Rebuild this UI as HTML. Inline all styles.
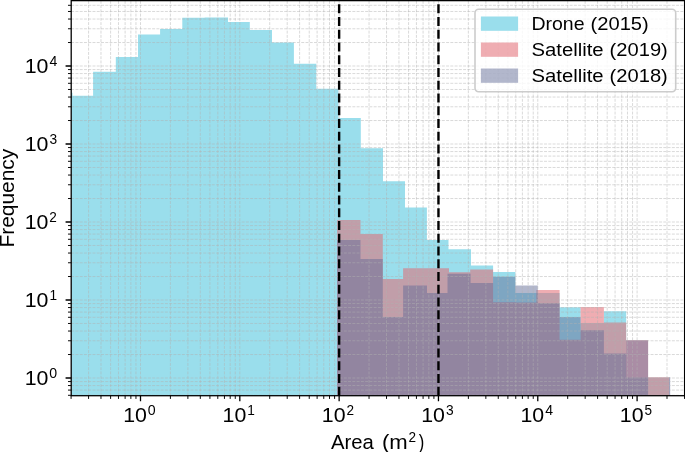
<!DOCTYPE html><html><head><meta charset="utf-8"><title>Area histogram</title><style>html,body{margin:0;padding:0;background:#fff;width:685px;height:452px;overflow:hidden}svg{display:block;will-change:transform}text{font-family:"Liberation Sans",sans-serif;fill:#000}</style></head><body><svg width="685" height="452" viewBox="0 0 685 452"><defs><clipPath id="ax"><rect x="71.2" y="0.64" width="613.4" height="395.06"/></clipPath></defs><rect width="685" height="452" fill="#fff"/><g clip-path="url(#ax)"><path d="M60 92.7H72.5V397.7H60ZM72.5 95.8H93.1V397.7H72.5ZM93.1 71.8H115.8V397.7H93.1ZM115.8 57.1H138V397.7H115.8ZM138 34.4H160.1V397.7H138ZM160.1 29.05H182.3V397.7H160.1ZM182.3 17.7H204.6V397.7H182.3ZM204.6 17.4H228V397.7H204.6ZM228 22H249.8V397.7H228ZM249.8 30.1H272V397.7H249.8ZM272 42.6H293.9V397.7H272ZM293.9 63.8H316.3V397.7H293.9ZM316.3 88.8H338.4V397.7H316.3ZM338.4 118H360.8V397.7H338.4ZM360.8 148.2H383V397.7H360.8ZM383 181.2H405V397.7H383ZM405 207.5H426.9V397.7H405ZM426.9 240H448.5V397.7H426.9ZM448.5 249.2H471V397.7H448.5ZM471 265.4H493.1V397.7H471ZM493.1 272H515.4V397.7H493.1ZM515.4 293.1H537.5V397.7H515.4ZM537.5 293.1H559.6V397.7H537.5ZM559.6 307.2H580.6V397.7H559.6ZM580.6 322.9H603.9V397.7H580.6ZM603.9 311.2H626.2V397.7H603.9ZM626.2 377.5H648.1V397.7H626.2ZM648.1 377.5H669.4V397.7H648.1Z" fill="#9adeec" fill-opacity="1"/><path d="M337.1 220H360.5V397.7H337.1ZM360.5 234.1H382.8V397.7H360.5ZM382.8 278.9H403.1V397.7H382.8ZM403.1 268.2H426.9V397.7H403.1ZM426.9 268.2H449V397.7H426.9ZM449 272.3H470.2V397.7H449ZM470.2 269.4H493.1V397.7H470.2ZM493.1 302.3H515.4V397.7H493.1ZM515.4 302.5H536.4V397.7H515.4ZM536.4 290.1H559.6V397.7H536.4ZM559.6 339.7H580.6V397.7H559.6ZM580.6 307H603.9V397.7H580.6ZM603.9 322.6H626.2V397.7H603.9ZM626.2 340.3H648.1V397.7H626.2ZM648.1 377.3H669.4V397.7H648.1Z" fill="#e26973" fill-opacity="0.549"/><path d="M337.1 239.9H360.5V397.7H337.1ZM360.5 258.9H382.8V397.7H360.5ZM382.8 316.9H403.1V397.7H382.8ZM403.1 285.5H427V397.7H403.1ZM427 292.9H447.5V397.7H427ZM447.5 273.7H470.6V397.7H447.5ZM470.6 282.9H493.1V397.7H470.6ZM493.1 276.8H515.4V397.7H493.1ZM515.4 285.4H537.8V397.7H515.4ZM537.8 303.2H559.6V397.7H537.8ZM559.6 317H580.6V397.7H559.6ZM580.6 330.2H603.9V397.7H580.6ZM603.9 353.6H626.2V397.7H603.9ZM626.2 340.3H648.1V397.7H626.2ZM669 377.3H670.2V397.7H669Z" fill="#616d97" fill-opacity="0.491"/><path d="M140.5 395.7V0.64M239.82 395.7V0.64M339.14 395.7V0.64M438.46 395.7V0.64M537.78 395.7V0.64M637.1 395.7V0.64M71.08 395.7V0.64M88.57 395.7V0.64M100.98 395.7V0.64M110.6 395.7V0.64M118.47 395.7V0.64M125.12 395.7V0.64M130.87 395.7V0.64M135.96 395.7V0.64M170.4 395.7V0.64M187.89 395.7V0.64M200.3 395.7V0.64M209.92 395.7V0.64M217.79 395.7V0.64M224.44 395.7V0.64M230.19 395.7V0.64M235.28 395.7V0.64M269.72 395.7V0.64M287.21 395.7V0.64M299.62 395.7V0.64M309.24 395.7V0.64M317.11 395.7V0.64M323.76 395.7V0.64M329.51 395.7V0.64M334.6 395.7V0.64M369.04 395.7V0.64M386.53 395.7V0.64M398.94 395.7V0.64M408.56 395.7V0.64M416.43 395.7V0.64M423.08 395.7V0.64M428.83 395.7V0.64M433.92 395.7V0.64M468.36 395.7V0.64M485.85 395.7V0.64M498.26 395.7V0.64M507.88 395.7V0.64M515.75 395.7V0.64M522.4 395.7V0.64M528.15 395.7V0.64M533.24 395.7V0.64M567.68 395.7V0.64M585.17 395.7V0.64M597.58 395.7V0.64M607.2 395.7V0.64M615.07 395.7V0.64M621.72 395.7V0.64M627.47 395.7V0.64M632.56 395.7V0.64M667 395.7V0.64M684.49 395.7V0.64M71.2 378H684.6M71.2 300H684.6M71.2 222H684.6M71.2 144H684.6M71.2 66H684.6M71.2 395.3H684.6M71.2 390.08H684.6M71.2 385.56H684.6M71.2 381.57H684.6M71.2 354.52H684.6M71.2 340.78H684.6M71.2 331.04H684.6M71.2 323.48H684.6M71.2 317.3H684.6M71.2 312.08H684.6M71.2 307.56H684.6M71.2 303.57H684.6M71.2 276.52H684.6M71.2 262.78H684.6M71.2 253.04H684.6M71.2 245.48H684.6M71.2 239.3H684.6M71.2 234.08H684.6M71.2 229.56H684.6M71.2 225.57H684.6M71.2 198.52H684.6M71.2 184.78H684.6M71.2 175.04H684.6M71.2 167.48H684.6M71.2 161.3H684.6M71.2 156.08H684.6M71.2 151.56H684.6M71.2 147.57H684.6M71.2 120.52H684.6M71.2 106.78H684.6M71.2 97.04H684.6M71.2 89.48H684.6M71.2 83.3H684.6M71.2 78.08H684.6M71.2 73.56H684.6M71.2 69.57H684.6M71.2 42.52H684.6M71.2 28.78H684.6M71.2 19.04H684.6M71.2 11.48H684.6M71.2 5.3H684.6" stroke="#b0b0b0" stroke-opacity="0.6" stroke-width="0.8" stroke-dasharray="2.97 1.29" fill="none"/><path d="M339.14 395.7V-19.36" stroke="#000" stroke-width="2.41" stroke-dasharray="8.9 3.85" fill="none"/><path d="M438.46 395.7V-19.36" stroke="#000" stroke-width="2.41" stroke-dasharray="8.9 3.85" fill="none"/></g><rect x="71.2" y="0.64" width="613.4" height="395.06" fill="none" stroke="#000" stroke-width="1.29" stroke-linejoin="miter"/><path d="M140.5 395.7v5.62M239.82 395.7v5.62M339.14 395.7v5.62M438.46 395.7v5.62M537.78 395.7v5.62M637.1 395.7v5.62M71.2 378h-5.62M71.2 300h-5.62M71.2 222h-5.62M71.2 144h-5.62M71.2 66h-5.62" stroke="#000" stroke-width="1.29" fill="none"/><path d="M71.08 395.7v3.21M88.57 395.7v3.21M100.98 395.7v3.21M110.6 395.7v3.21M118.47 395.7v3.21M125.12 395.7v3.21M130.87 395.7v3.21M135.96 395.7v3.21M170.4 395.7v3.21M187.89 395.7v3.21M200.3 395.7v3.21M209.92 395.7v3.21M217.79 395.7v3.21M224.44 395.7v3.21M230.19 395.7v3.21M235.28 395.7v3.21M269.72 395.7v3.21M287.21 395.7v3.21M299.62 395.7v3.21M309.24 395.7v3.21M317.11 395.7v3.21M323.76 395.7v3.21M329.51 395.7v3.21M334.6 395.7v3.21M369.04 395.7v3.21M386.53 395.7v3.21M398.94 395.7v3.21M408.56 395.7v3.21M416.43 395.7v3.21M423.08 395.7v3.21M428.83 395.7v3.21M433.92 395.7v3.21M468.36 395.7v3.21M485.85 395.7v3.21M498.26 395.7v3.21M507.88 395.7v3.21M515.75 395.7v3.21M522.4 395.7v3.21M528.15 395.7v3.21M533.24 395.7v3.21M567.68 395.7v3.21M585.17 395.7v3.21M597.58 395.7v3.21M607.2 395.7v3.21M615.07 395.7v3.21M621.72 395.7v3.21M627.47 395.7v3.21M632.56 395.7v3.21M667 395.7v3.21M684.49 395.7v3.21M71.2 395.3h-3.21M71.2 390.08h-3.21M71.2 385.56h-3.21M71.2 381.57h-3.21M71.2 354.52h-3.21M71.2 340.78h-3.21M71.2 331.04h-3.21M71.2 323.48h-3.21M71.2 317.3h-3.21M71.2 312.08h-3.21M71.2 307.56h-3.21M71.2 303.57h-3.21M71.2 276.52h-3.21M71.2 262.78h-3.21M71.2 253.04h-3.21M71.2 245.48h-3.21M71.2 239.3h-3.21M71.2 234.08h-3.21M71.2 229.56h-3.21M71.2 225.57h-3.21M71.2 198.52h-3.21M71.2 184.78h-3.21M71.2 175.04h-3.21M71.2 167.48h-3.21M71.2 161.3h-3.21M71.2 156.08h-3.21M71.2 151.56h-3.21M71.2 147.57h-3.21M71.2 120.52h-3.21M71.2 106.78h-3.21M71.2 97.04h-3.21M71.2 89.48h-3.21M71.2 83.3h-3.21M71.2 78.08h-3.21M71.2 73.56h-3.21M71.2 69.57h-3.21M71.2 42.52h-3.21M71.2 28.78h-3.21M71.2 19.04h-3.21M71.2 11.48h-3.21M71.2 5.3h-3.21" stroke="#000" stroke-width="0.96" fill="none"/><text font-size="100" transform="matrix(0.21343 0 0 0.20183 24.693 385.138)">10</text><text font-size="100" transform="matrix(0.14167 0 0 0.14366 49.323 377.716)">0</text><text font-size="100" transform="matrix(0.21343 0 0 0.20183 24.693 307.138)">10</text><text font-size="100" transform="matrix(0.13628 0 0 0.14261 49.390 299.690)">1</text><text font-size="100" transform="matrix(0.21343 0 0 0.20183 24.693 229.138)">10</text><text font-size="100" transform="matrix(0.13565 0 0 0.14300 49.312 221.670)">2</text><text font-size="100" transform="matrix(0.21343 0 0 0.20183 24.693 151.138)">10</text><text font-size="100" transform="matrix(0.13766 0 0 0.14366 49.479 143.716)">3</text><text font-size="100" transform="matrix(0.21343 0 0 0.20183 24.693 73.138)">10</text><text font-size="100" transform="matrix(0.14059 0 0 0.14471 49.379 65.835)">4</text><text font-size="100" transform="matrix(0.21343 0 0 0.20183 123.213 422.038)">10</text><text font-size="100" transform="matrix(0.14167 0 0 0.14366 147.843 414.616)">0</text><text font-size="100" transform="matrix(0.21343 0 0 0.20183 222.533 422.038)">10</text><text font-size="100" transform="matrix(0.13628 0 0 0.14261 247.230 414.590)">1</text><text font-size="100" transform="matrix(0.21343 0 0 0.20183 321.853 422.038)">10</text><text font-size="100" transform="matrix(0.13565 0 0 0.14300 346.472 414.570)">2</text><text font-size="100" transform="matrix(0.21343 0 0 0.20183 421.173 422.038)">10</text><text font-size="100" transform="matrix(0.13766 0 0 0.14366 445.959 414.616)">3</text><text font-size="100" transform="matrix(0.21343 0 0 0.20183 520.493 422.038)">10</text><text font-size="100" transform="matrix(0.14059 0 0 0.14471 545.179 414.735)">4</text><text font-size="100" transform="matrix(0.21343 0 0 0.20183 619.813 422.038)">10</text><text font-size="100" transform="matrix(0.13553 0 0 0.14329 644.618 414.637)">5</text><text font-size="100" transform="translate(13.840 247.574) rotate(-90) scale(0.20927 0.20144)">Frequency</text><text font-size="100" transform="matrix(0.20327 0 0 0.20473 330.901 449.272)">Area</text><text font-size="100" transform="matrix(0.22127 0 0 0.20429 382.000 449.350)">(m</text><text font-size="100" transform="matrix(0.13565 0 0 0.14300 408.472 441.820)">2</text><text font-size="100" transform="matrix(0.16615 0 0 0.20429 418.654 449.350)">)</text><rect x="475" y="9.3" width="200.7" height="82.4" rx="3.6" ry="3.6" fill="#fff" fill-opacity="0.8" stroke="#cccccc" stroke-width="1.6"/><rect x="480.9" y="16.5" width="37.2" height="14.3" fill="#9adeec" fill-opacity="1"/><rect x="480.9" y="42.5" width="37.2" height="14.3" fill="#e26973" fill-opacity="0.549"/><rect x="480.9" y="68.5" width="37.2" height="14.3" fill="#616d97" fill-opacity="0.491"/><text font-size="100" transform="matrix(0.19503 0 0 0.18773 531.445 29.963)">Drone</text><text font-size="100" transform="matrix(0.20127 0 0 0.18734 590.586 29.900)">(2015)</text><text font-size="100" transform="matrix(0.20319 0 0 0.18493 531.420 55.966)">Satellite</text><text font-size="100" transform="matrix(0.20127 0 0 0.18734 609.613 55.900)">(2019)</text><text font-size="100" transform="matrix(0.20319 0 0 0.18493 531.420 81.966)">Satellite</text><text font-size="100" transform="matrix(0.20127 0 0 0.18734 609.613 81.900)">(2018)</text></svg></body></html>
